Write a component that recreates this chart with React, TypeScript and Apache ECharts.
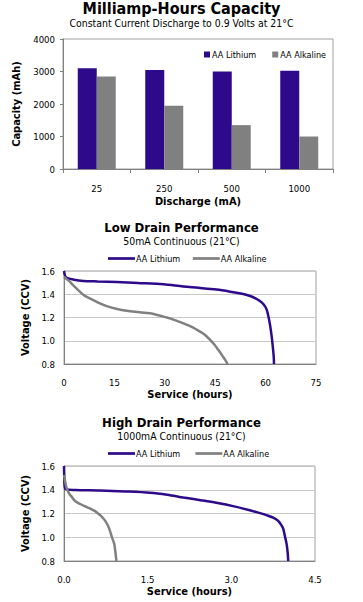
import React, { useEffect, useRef } from "react";
import * as echarts from "echarts";

const dischargeCategories = ["25", "250", "500", "1000"];
const capacityLithium = [3100, 3050, 3000, 3020];
const capacityAlkaline = [2850, 1950, 1350, 1000];

const lowDrainLithium: [number, number][] = [
  [0, 1.6], [0.3, 1.56], [0.8, 1.54], [3, 1.525], [5.7, 1.515], [10, 1.51], [15.7, 1.505],
  [22, 1.497], [29.6, 1.486], [35.5, 1.466], [40, 1.455], [45.4, 1.44], [50.4, 1.418],
  [53, 1.405], [55.4, 1.385], [57, 1.365], [58.3, 1.342], [59.5, 1.31], [60.3, 1.27],
  [60.9, 1.2], [61.3, 1.14], [61.8, 1.04], [62.1, 0.96], [62.4, 0.87], [62.5, 0.8],
];
const lowDrainAlkaline: [number, number][] = [
  [0, 1.55], [0.8, 1.53], [1.8, 1.506], [3, 1.47], [4.8, 1.42], [6, 1.39], [7.7, 1.364],
  [10, 1.33], [12.7, 1.298], [15.5, 1.276], [18.7, 1.258], [22, 1.247], [25.6, 1.236],
  [30.6, 1.2], [33, 1.178], [35.5, 1.15], [38, 1.12], [40.5, 1.079], [42, 1.05],
  [43.5, 1.008], [44.8, 0.965], [45.9, 0.922], [46.8, 0.885], [47.6, 0.851], [48.2, 0.825], [48.7, 0.8],
];
const highDrainLithium: [number, number][] = [
  [0, 1.6], [0.005, 1.5], [0.01, 1.44], [0.03, 1.405], [0.2, 1.398], [0.64, 1.394],
  [1.1, 1.386], [1.54, 1.375], [1.85, 1.358], [2.14, 1.335], [2.45, 1.312], [2.73, 1.29],
  [3.05, 1.26], [3.33, 1.228], [3.5, 1.205], [3.63, 1.186], [3.75, 1.165], [3.84, 1.138],
  [3.9, 1.1], [3.93, 1.073], [3.96, 1.01], [3.99, 0.946], [4.01, 0.87], [4.02, 0.8],
];
const highDrainAlkaline: [number, number][] = [
  [0, 1.525], [0.02, 1.47], [0.05, 1.41], [0.09, 1.37], [0.14, 1.34], [0.2, 1.305],
  [0.29, 1.28], [0.38, 1.26], [0.47, 1.242], [0.55, 1.222], [0.61, 1.2], [0.68, 1.172],
  [0.73, 1.144], [0.78, 1.105], [0.82, 1.06], [0.86, 1.0], [0.9, 0.946], [0.92, 0.88], [0.94, 0.8],
];

const lowDrainXTicks = { min: 0, max: 75, interval: 15 };
const highDrainXTicks = { min: 0, max: 4.5, interval: 1.5 };
const voltageTicks = { min: 0.8, max: 1.6, interval: 0.2 };

const titles = [
  { text: "Milliamp-Hours Capacity", sub: "Constant Current Discharge to 0.9 Volts at 21°C" },
  { text: "Low Drain Performance", sub: "50mA Continuous (21°C)" },
  { text: "High Drain Performance", sub: "1000mA Continuous (21°C)" },
];

const FONT = "DejaVu Sans Condensed";
const LITH = "#2e0a8a";
const ALK = "#808080";

export default function App() {
  const ref = useRef<HTMLDivElement>(null);
  useEffect(() => {
    document.body.style.margin = "0";
    const chart = echarts.init(ref.current!, null, { renderer: "svg" });
    const titleTops = [0, 221, 416];
    const titleSizes = [16, 13, 13];
    const titleGaps = [2, 2, 2];
    const axisLabel = { color: "#000", fontFamily: FONT, fontSize: 9.5 };
    const nameStyle = { color: "#000", fontFamily: FONT, fontSize: 11, fontWeight: "bold" as const };
    const axisLine = { show: true, lineStyle: { color: "#808080", width: 1 } };
    const gridBase = { show: true, borderColor: "#a0a0a0", borderWidth: 1, backgroundColor: "#fff" };
    const split = { show: true, lineStyle: { color: "#c8c8c8", width: 1 } };

    const mkValueX = (grid: number, t: { min: number; max: number; interval: number }, dec: number) => ({
      type: "value", gridIndex: grid, min: t.min, max: t.max, interval: t.interval,
      axisLine, axisTick: { show: false }, splitLine: { show: false },
      axisLabel: { ...axisLabel, margin: 13, formatter: (v: number) => v.toFixed(dec) },
      name: "Service (hours)", nameLocation: "middle", nameGap: 25, nameTextStyle: nameStyle,
    });
    const mkVoltY = (grid: number) => ({
      type: "value", gridIndex: grid, min: voltageTicks.min, max: voltageTicks.max, interval: voltageTicks.interval,
      axisLine, axisTick: { show: false }, splitLine: split,
      axisLabel: { ...axisLabel, margin: 9, formatter: (v: number) => v.toFixed(1) },
      name: "Voltage (CCV)", nameLocation: "middle", nameGap: 21, nameTextStyle: nameStyle,
    });
    const lineLegend = (top: number) => ({
      top, left: 108, padding: 0, icon: "path://M0,0 L10,0 L10,1 L0,1 Z", itemWidth: 27, itemHeight: 3, itemGap: 10,
      textStyle: { fontFamily: FONT, fontSize: 9, color: "#000", padding: [0, 0, 0, -4] },
    });

    chart.setOption({
      animation: false,
      backgroundColor: "#fff",
      title: titles.map((t, i) => ({
        text: t.text, subtext: t.sub, left: "center", top: titleTops[i], itemGap: titleGaps[i], padding: 0,
        textStyle: { fontFamily: FONT, fontSize: titleSizes[i], fontWeight: "bold", color: "#000" },
        subtextStyle: { fontFamily: FONT, fontSize: 10.4, color: "#000" },
      })),
      legend: [
        {
          top: 50, left: 204, padding: 0, icon: "rect", itemWidth: 6, itemHeight: 6, itemGap: 16,
          textStyle: { fontFamily: FONT, fontSize: 9, color: "#000", padding: [0, 0, 0, -3] },
          data: [{ name: "AA Lithium" }, { name: "AA Alkaline" }],
        },
        { ...lineLegend(254), data: [{ name: "AA Lithium " }, { name: "AA Alkaline " }] },
        { ...lineLegend(449), data: [{ name: "AA Lithium  " }, { name: "AA Alkaline  " }] },
      ],
      grid: [
        { ...gridBase, left: 63, top: 39, width: 270, height: 130 },
        { ...gridBase, left: 64, top: 271, width: 252, height: 93 },
        { ...gridBase, left: 64, top: 466, width: 251, height: 95 },
      ],
      xAxis: [
        {
          type: "category", gridIndex: 0, data: dischargeCategories,
          axisLine, axisTick: { show: true, length: 4, lineStyle: { color: "#808080" } },
          axisLabel: { ...axisLabel, margin: 14 },
          name: "Discharge (mA)", nameLocation: "middle", nameGap: 27, nameTextStyle: nameStyle,
        },
        mkValueX(1, lowDrainXTicks, 0),
        mkValueX(2, highDrainXTicks, 1),
      ],
      yAxis: [
        {
          type: "value", gridIndex: 0, min: 0, max: 4000, interval: 1000,
          axisLine, axisTick: { show: true, length: 3, lineStyle: { color: "#808080" } },
          splitLine: { show: false },
          axisLabel: { ...axisLabel, margin: 8, formatter: (v: number) => String(v) },
          name: "Capacity (mAh)", nameLocation: "middle", nameGap: 30, nameTextStyle: nameStyle,
        },
        mkVoltY(1),
        mkVoltY(2),
      ],
      series: [
        { type: "bar", name: "AA Lithium", xAxisIndex: 0, yAxisIndex: 0, data: capacityLithium, barWidth: 19, barGap: "0%", itemStyle: { color: LITH } },
        { type: "bar", name: "AA Alkaline", xAxisIndex: 0, yAxisIndex: 0, data: capacityAlkaline, barWidth: 19, barGap: "0%", itemStyle: { color: ALK } },
        { type: "line", name: "AA Lithium ", xAxisIndex: 1, yAxisIndex: 1, data: lowDrainLithium, smooth: 0.3, showSymbol: false, lineStyle: { color: LITH, width: 2.5 }, itemStyle: { color: LITH } },
        { type: "line", name: "AA Alkaline ", xAxisIndex: 1, yAxisIndex: 1, data: lowDrainAlkaline, smooth: 0.3, showSymbol: false, lineStyle: { color: ALK, width: 2.5 }, itemStyle: { color: ALK } },
        { type: "line", name: "AA Lithium  ", xAxisIndex: 2, yAxisIndex: 2, data: highDrainLithium, smooth: 0.3, showSymbol: false, lineStyle: { color: LITH, width: 2.5 }, itemStyle: { color: LITH } },
        { type: "line", name: "AA Alkaline  ", xAxisIndex: 2, yAxisIndex: 2, data: highDrainAlkaline, smooth: 0.3, showSymbol: false, lineStyle: { color: ALK, width: 2.5 }, itemStyle: { color: ALK } },
      ],
    });
    return () => chart.dispose();
  }, []);
  return <div ref={ref} style={{ width: 363, height: 602 }} />;
}
